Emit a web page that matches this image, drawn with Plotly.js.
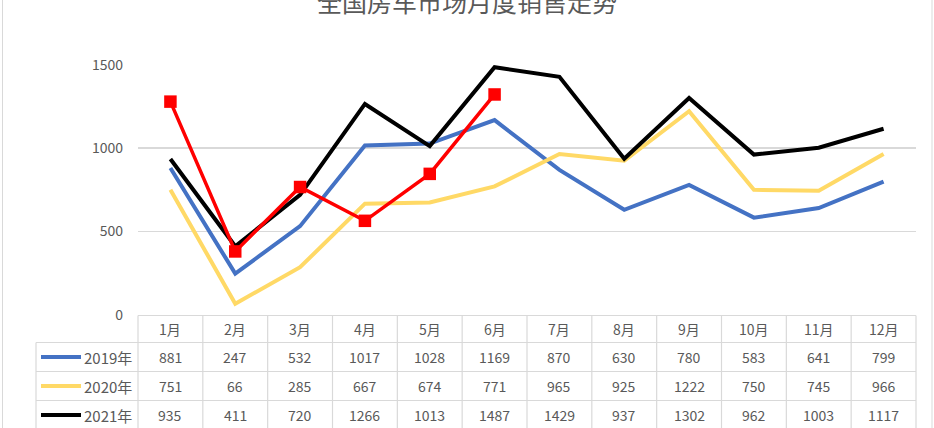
<!DOCTYPE html>
<html>
<head>
<meta charset="utf-8">
<script src="https://cdn.plot.ly/plotly-3.0.1.min.js"></script>
<style>html,body{margin:0;padding:0;background:#fff;}#chart{width:934px;height:428px;}</style>
</head>
<body>
<div id="chart"></div>
<script>
// ---- data ----
var months = ['1月','2月','3月','4月','5月','6月','7月','8月','9月','10月','11月','12月'];
var seriesNames = ['2019年','2020年','2021年'];
var sales2019 = [881,247,532,1017,1028,1169,870,630,780,583,641,799];
var sales2020 = [751,66,285,667,674,771,965,925,1222,750,745,966];
var sales2021 = [935,411,720,1266,1013,1487,1429,937,1302,962,1003,1117];
var months2022 = ['1月','2月','3月','4月','5月','6月'];
var sales2022 = [1280,380,767,564,846,1323];
var yTicks = [0,500,1000,1500];
var title = '全国房车市场月度销售走势';

// ---- styling / layout ----
var W = 934, H = 428;
var colors = ['#4472C4','#FFD966','#000000'];
var redColor = '#FF0000';
var gridColor = '#D9D9D9';
var textColor = '#595959';
var font = '"Noto Sans CJK SC","Noto Sans",sans-serif';

var plotL = 138, plotR = 916;      // px
var yTop = 65, yZero = 314.7;      // px for 1500 and 0
var yMax = 1505;
var domTopPx = yZero - (yMax/1500)*(yZero - yTop);

function px(x){ return x / W; }
function py(y){ return 1 - y / H; }

var tableSeries = [sales2019, sales2020, sales2021];
var rowEdges = [315.5, 342.5, 371.5, 400.5, 429.5];
var legendLeft = 36;

var traces = [];
tableSeries.forEach(function(vals, k){
  traces.push({
    type:'scatter', mode:'lines', x: months, y: vals, name: seriesNames[k],
    line:{color: colors[k], width: 4}, hoverinfo:'skip'
  });
});
traces.push({
  type:'scatter', mode:'lines+markers', x: months2022, y: sales2022, name:'2022年',
  line:{color: redColor, width: 3.5},
  marker:{symbol:'square', size:12.5, color: redColor},
  cliponaxis:false, hoverinfo:'skip'
});

var shapes = [];
var annotations = [];
var n = months.length;
var colW = (plotR - plotL) / n;

// outer frame lines
shapes.push({type:'line', xref:'paper', yref:'paper', x0:px(2.5), x1:px(2.5), y0:0, y1:1, line:{color:gridColor, width:1}});
shapes.push({type:'line', xref:'paper', yref:'paper', x0:px(932), x1:px(932), y0:0, y1:1, line:{color:gridColor, width:1}});

// table horizontal lines
shapes.push({type:'line', xref:'paper', yref:'paper', x0:px(plotL), x1:px(plotR), y0:py(rowEdges[0]), y1:py(rowEdges[0]), line:{color:gridColor, width:1.2}});
for (var r = 1; r < rowEdges.length; r++) {
  shapes.push({type:'line', xref:'paper', yref:'paper', x0:px(legendLeft), x1:px(plotR), y0:py(rowEdges[r]), y1:py(rowEdges[r]), line:{color:gridColor, width:1.2}});
}
// table vertical lines
for (var c = 0; c <= n; c++) {
  var xx = plotL + c*colW;
  shapes.push({type:'line', xref:'paper', yref:'paper', x0:px(xx), x1:px(xx), y0:py(rowEdges[0]), y1:0, line:{color:gridColor, width:1.2}});
}
shapes.push({type:'line', xref:'paper', yref:'paper', x0:px(legendLeft), x1:px(legendLeft), y0:py(rowEdges[1]), y1:0, line:{color:gridColor, width:1.2}});

// header text
months.forEach(function(m, i){
  annotations.push({xref:'x', yref:'paper', x:m, y:py((rowEdges[0]+rowEdges[1])/2), text:m, showarrow:false,
    xanchor:'center', yanchor:'middle', font:{family:font, size:14, color:textColor}});
});
// rows
tableSeries.forEach(function(vals, k){
  var yc = py((rowEdges[k+1]+rowEdges[k+2])/2);
  vals.forEach(function(v, i){
    annotations.push({xref:'x', yref:'paper', x:months[i], y:yc, text:String(v), showarrow:false,
      xanchor:'center', yanchor:'middle', font:{family:font, size:14, color:textColor}});
  });
  annotations.push({xref:'paper', yref:'paper', x:px(134), y:yc, text:seriesNames[k], showarrow:false,
    xanchor:'right', yanchor:'middle', font:{family:font, size:15, color:textColor}});
  shapes.push({type:'line', xref:'paper', yref:'paper', x0:px(41), x1:px(81), y0:yc, y1:yc, line:{color:colors[k], width:4}});
});

var layout = {
  width: W, height: H,
  margin:{l:0, r:0, t:0, b:0},
  paper_bgcolor:'#ffffff', plot_bgcolor:'rgba(0,0,0,0)',
  showlegend:false,
  title:{text:title, x:0.5, xanchor:'center', y:py(3), yanchor:'middle', yref:'paper',
    font:{family:font, size:25, color:textColor}},
  xaxis:{type:'category', domain:[px(plotL), px(plotR)], range:[-0.5, n-0.5],
    showticklabels:false, showgrid:false, zeroline:false, showline:false, fixedrange:true},
  yaxis:{domain:[py(yZero), py(domTopPx)], range:[0, yMax], tickvals:yTicks, ticktext:yTicks.map(String),
    showgrid:true, gridcolor:gridColor, gridwidth:1.5, zeroline:false, showline:false,
    ticks:'', ticklabelstandoff:14, tickfont:{family:font, size:14, color:textColor}, fixedrange:true},
  shapes: shapes,
  annotations: annotations
};

Plotly.newPlot('chart', traces, layout, {staticPlot:true, displayModeBar:false});
</script>
</body>
</html>
